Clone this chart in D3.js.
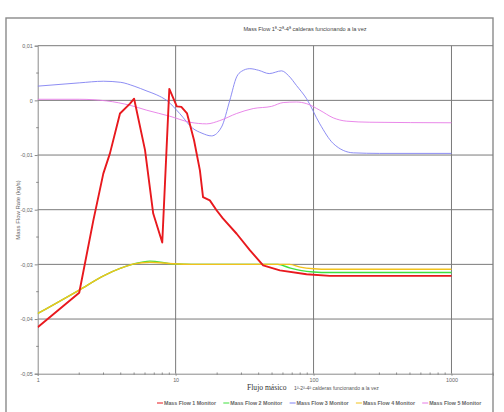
<!DOCTYPE html>
<html><head><meta charset="utf-8">
<script src="https://cdn.jsdelivr.net/npm/d3@7"></script>
<style>
html,body{margin:0;padding:0;background:#fff;}
svg{display:block;}
text{font-family:"Liberation Sans",Arial,sans-serif;}
</style></head>
<body>
<div id="chart"></div>
<script>
// ---- data ----
const title = "Mass Flow 1ª-2ª-4ª calderas funcionando a la vez";
const xTitleA = "Flujo másico";
const xTitleB = "1ª-2ª-4ª calderas funcionando a la vez";
const yTitle = "Mass Flow Rate (kg/s)";
const seriesNames = ["Mass Flow 1 Monitor","Mass Flow 2 Monitor","Mass Flow 3 Monitor","Mass Flow 4 Monitor","Mass Flow 5 Monitor"];
const seriesColors = ["#e8191e","#3ee03e","#8080f2","#f2c21c","#e67ae6"];
const yTicks = [0.01, 0, -0.01, -0.02, -0.03, -0.04, -0.05];
const yTickLabels = ["0,01","0","-0,01","-0,02","-0,03","-0,04","-0,05"];
const xTicks = [1, 10, 100, 1000];
const xTickLabels = ["1","10","100","1000"];

const flow1X = [1, 2, 2.53, 2.99, 3.34, 3.95, 4.67, 5, 6, 6.88, 8, 9, 10.2, 11, 12.1, 13.6, 15, 15.8, 17.7, 19.8, 22, 27.7, 34.5, 43.1, 57, 89, 131, 1000];
const flow1Y = [-0.0415, -0.0352, -0.022, -0.0134, -0.0097, -0.0024, -0.0006, 0.0003, -0.0091, -0.0207, -0.026, 0.0021, -0.0011, -0.0012, -0.0024, -0.0073, -0.0128, -0.0177, -0.0183, -0.0201, -0.0216, -0.0244, -0.0274, -0.0302, -0.0311, -0.0318, -0.0321, -0.0321];

const flow2X = [1, 2, 3, 4, 5, 6.5, 9.5, 13, 30, 55, 68, 80, 100, 130, 1000];
const flow2Y = [-0.039, -0.0347, -0.0321, -0.0307, -0.0299, -0.0294, -0.0299, -0.03, -0.03, -0.03, -0.0307, -0.0311, -0.0314, -0.0315, -0.0315];

const flow3X = [1, 2, 3, 4, 5, 6.2, 7.3, 8.6, 10.7, 13.3, 15.5, 18.2, 21.5, 24.7, 27.7, 30, 34.5, 40, 47.7, 58.6, 66, 75.3, 89, 111, 139, 194, 300, 1000];
const flow3Y = [0.0026, 0.0032, 0.0035, 0.0033, 0.0026, 0.0017, 0.0010, 0, -0.0024, -0.0051, -0.006, -0.0065, -0.0049, 0, 0.0043, 0.0053, 0.0058, 0.0055, 0.0049, 0.0054, 0.0045, 0.0027, 0.0003, -0.0043, -0.0079, -0.0096, -0.0097, -0.0097];

const flow4X = [1, 2, 3, 4, 5, 6.5, 9.6, 13, 30, 67, 80, 100, 130, 1000];
const flow4Y = [-0.039, -0.0347, -0.0321, -0.0307, -0.0299, -0.0296, -0.0299, -0.03, -0.03, -0.03, -0.0305, -0.0308, -0.0309, -0.0309];

const flow5X = [1, 2, 3.16, 4.67, 6.17, 9.08, 12.7, 16.8, 20.9, 27.7, 36.5, 49.6, 60.2, 75, 89, 111, 139, 173, 256, 1000];
const flow5Y = [0.0002, 0.0002, -0.0001, -0.0009, -0.0018, -0.0029, -0.004, -0.0043, -0.0037, -0.0024, -0.0015, -0.0011, -0.0004, -0.0003, -0.0006, -0.0018, -0.0032, -0.0038, -0.004, -0.0041];

const allX = [flow1X, flow2X, flow3X, flow4X, flow5X];
const allY = [flow1Y, flow2Y, flow3Y, flow4Y, flow5Y];

// ---- layout ----
const W = 504, H = 412;
const L = 37.7, R = 493, T = 45.7, B = 373.7;

const svg = d3.select("#chart").append("svg").attr("width", W).attr("height", H);

const x = d3.scaleLog().domain([1, 2000]).range([L, R]);
const y = d3.scaleLinear().domain([-0.05, 0.01]).range([B, T]);

// outer frame
svg.append("rect").attr("x", 6).attr("y", 18).attr("width", R - 6).attr("height", 420)
  .attr("fill", "none").attr("stroke", "#8a8a8a").attr("stroke-width", 1.4);

// title
svg.append("text").attr("x", 305).attr("y", 31).attr("text-anchor", "middle")
  .attr("font-size", 5.6).attr("fill", "#444").text(title);

// gridlines
const gridColor = "#7a7a7a";
svg.append("g").selectAll("line").data(yTicks.filter(d => d > -0.05)).join("line")
  .attr("x1", L).attr("x2", R).attr("y1", d => y(d)).attr("y2", d => y(d))
  .attr("stroke", gridColor).attr("stroke-width", 1);
svg.append("g").selectAll("line").data(xTicks.filter(d => d > 1)).join("line")
  .attr("x1", d => x(d)).attr("x2", d => x(d)).attr("y1", T).attr("y2", B)
  .attr("stroke", gridColor).attr("stroke-width", 1);

// y axis
const yAxis = d3.axisLeft(y).tickValues(yTicks).tickSize(3).tickPadding(2)
  .tickFormat((d, i) => yTickLabels[i]);
const gy = svg.append("g").attr("transform", `translate(${L},0)`).call(yAxis);
gy.select(".domain").attr("stroke", "#8a8a8a");
gy.selectAll(".tick line").attr("stroke", "#8a8a8a");
gy.selectAll("text").attr("font-size", 5.4).attr("fill", "#666").attr("font-family", "Liberation Sans, Arial, sans-serif");
// y minor ticks
const yMinor = d3.range(-0.045, 0.01, 0.01);
svg.append("g").selectAll("line").data(yMinor).join("line")
  .attr("x1", L - 1.5).attr("x2", L + 1).attr("y1", d => y(d)).attr("y2", d => y(d))
  .attr("stroke", "#8a8a8a");

// x axis
const xAxis = d3.axisBottom(x).tickValues(xTicks).tickSize(2).tickPadding(2)
  .tickFormat((d, i) => xTickLabels[i]);
const gx = svg.append("g").attr("transform", `translate(0,${B})`).call(xAxis);
gx.select(".domain").attr("stroke", "#8a8a8a");
gx.selectAll(".tick line").attr("stroke", "#8a8a8a");
gx.selectAll("text").attr("font-size", 5.4).attr("fill", "#666").attr("font-family", "Liberation Sans, Arial, sans-serif");
// x minor ticks
const xMinor = [];
[1, 10, 100, 1000].forEach(dec => { for (let k = 2; k <= 9; k++) { if (dec * k <= 2000) xMinor.push(dec * k); } });
svg.append("g").selectAll("line").data(xMinor).join("line")
  .attr("x1", d => x(d)).attr("x2", d => x(d)).attr("y1", B - 1.2).attr("y2", B + 1.2)
  .attr("stroke", "#8a8a8a");

// axis titles
svg.append("text").attr("x", 247).attr("y", 390)
  .attr("font-family", "Liberation Serif, Times New Roman, serif")
  .attr("font-size", 7.6).attr("fill", "#333").style("font-family", "'Liberation Serif', serif").text(xTitleA);
svg.append("text").attr("x", 294).attr("y", 390).attr("font-size", 5).attr("fill", "#555").text(xTitleB);

svg.append("text").attr("transform", `translate(20,210) rotate(-90)`).attr("text-anchor", "middle")
  .attr("font-size", 6).attr("fill", "#666").text(yTitle);

// lines
svg.append("clipPath").attr("id", "clip").append("rect")
  .attr("x", L).attr("y", T - 2).attr("width", R - L).attr("height", B - T + 2);
const plot = svg.append("g").attr("clip-path", "url(#clip)");
const drawOrder = [1, 2, 4, 3, 0];
const widths = [1.9, 1.4, 0.9, 1.4, 0.9];
drawOrder.forEach(i => {
  const pts = allX[i].map((xv, j) => [xv, allY[i][j]]);
  const line = d3.line().x(d => x(d[0])).y(d => y(d[1]))
    .curve(i === 0 ? d3.curveLinear : d3.curveMonotoneX);
  plot.append("path").datum(pts).attr("d", line).attr("fill", "none")
    .attr("stroke", seriesColors[i]).attr("stroke-width", widths[i])
    .attr("stroke-linejoin", "round");
});

// legend
const lg = svg.append("g");
seriesNames.forEach((name, i) => {
  const lx = 157 + i * 66.3;
  lg.append("line").attr("x1", lx).attr("x2", lx + 6).attr("y1", 403).attr("y2", 403)
    .attr("stroke", seriesColors[i]).attr("stroke-width", 1);
  lg.append("text").attr("x", lx + 7).attr("y", 405).attr("font-size", 5.3)
    .attr("font-weight", "bold").attr("fill", "#666").text(name);
});
</script>
</body></html>
